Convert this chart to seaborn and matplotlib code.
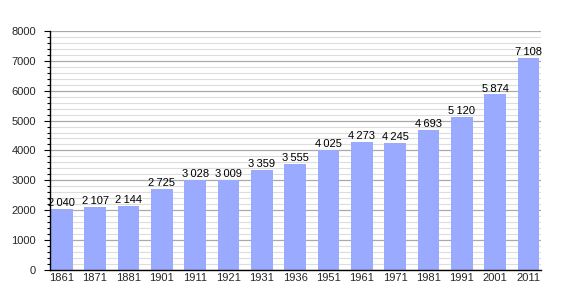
import matplotlib
matplotlib.use("Agg")
import matplotlib.pyplot as plt
import seaborn as sns
import pandas as pd
from matplotlib.ticker import MultipleLocator

years = ["1861", "1871", "1881", "1901", "1911", "1921", "1931", "1936",
         "1951", "1961", "1971", "1981", "1991", "2001", "2011"]
population = [2040, 2107, 2144, 2725, 3028, 3009, 3359, 3555,
              4025, 4273, 4245, 4693, 5120, 5874, 7108]

df = pd.DataFrame({"year": years, "pop": population})

sns.set_theme(style="white")
plt.rcParams['font.family'] = ['Liberation Sans', 'DejaVu Sans']

fig = plt.figure(figsize=(5.7, 3.0), dpi=100)
ax = fig.add_axes([0.0877, 0.1, 0.862, 0.797])

sns.barplot(data=df, x="year", y="pop", color="#99aaff", saturation=1,
            width=0.65, ax=ax)
for p in ax.patches:
    p.set_zorder(3)
    p.set_edgecolor("none")

ax.set_ylim(0, 8000)
ax.set_xlim(-0.35, len(years) - 0.62)
ax.yaxis.set_major_locator(MultipleLocator(1000))
ax.yaxis.set_minor_locator(MultipleLocator(200))
ax.grid(which="major", axis="y", color="#aaaaaa", linewidth=0.9, zorder=0)
ax.grid(which="minor", axis="y", color="#dddddd", linewidth=0.8, zorder=0)
ax.set_axisbelow(True)
ax.set_xlabel("")
ax.set_ylabel("")

for s in ["top", "right"]:
    ax.spines[s].set_visible(False)
for s in ["left", "bottom"]:
    ax.spines[s].set_color("black")
    ax.spines[s].set_linewidth(1.0)
    ax.spines[s].set_zorder(4)

ax.tick_params(axis="y", which="major", left=True, length=4, width=0.8,
               color="black", labelsize=8, pad=6)
ax.tick_params(axis="y", which="minor", left=True, length=2, width=0.8,
               color="black")
ax.tick_params(axis="x", length=0, labelsize=8, pad=2)

for i, v in enumerate(population):
    lbl = f"{v:,}".replace(",", "\u202f")
    ax.text(i, v + 30, lbl, ha="center", va="bottom", fontsize=8,
            color="black", zorder=5)

fig.savefig("out.png", dpi=100)
